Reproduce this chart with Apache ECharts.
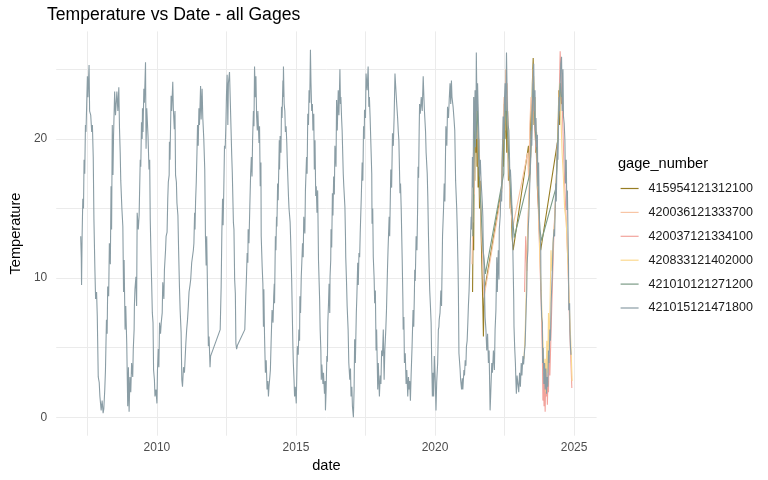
<!DOCTYPE html>
<html>
<head>
<meta charset="utf-8">
<title>Temperature vs Date - all Gages</title>
<script src="https://cdn.jsdelivr.net/npm/echarts@6/dist/echarts.min.js"></script>
<style>
  html, body { margin: 0; padding: 0; background: #fff; }
  #main { width: 768px; height: 480px; }
</style>
</head>
<body>
<div id="main"></div>
<script>
// gage names, in legend order
var gageNames = ['415954121312100', '420036121333700', '420037121334100',
  '420833121402000', '421010121271200', '421015121471800'];
var gageColors = ['#977d23', '#f8c5a5', '#f2a39c', '#fbd98e', '#7b9b86', '#8a9da5'];

// [decimal year, temperature]
var gage415954 = [
  [2021.35, 9], [2021.37, 14], [2021.39, 12], [2021.41, 20], [2021.43, 17], [2021.45, 23], [2021.47, 19],
  [2021.49, 22.5], [2021.51, 18], [2021.53, 21], [2021.55, 16.5], [2021.57, 19], [2021.6, 15], [2021.63, 17],
  [2021.66, 13], [2021.69, 10.5], [2021.72, 8], [2021.74, 5.8], [2021.77, 9],
  [2022.4, 16.5], [2022.43, 20], [2022.46, 18], [2022.49, 22.5], [2022.52, 20], [2022.55, 24], [2022.58, 19],
  [2022.61, 22], [2022.64, 17], [2022.67, 19], [2022.7, 15], [2022.73, 16], [2022.77, 13], [2022.81, 12],
  [2023.36, 19.5], [2023.4, 18], [2023.44, 22], [2023.47, 20], [2023.5, 24], [2023.53, 25.8], [2023.56, 21],
  [2023.59, 23], [2023.62, 19], [2023.65, 20.5], [2023.68, 16.5], [2023.72, 15], [2023.76, 13], [2023.8, 12],
  [2024.42, 20], [2024.45, 23.5], [2024.48, 21], [2024.51, 24], [2024.54, 22.5], [2024.57, 23]
];
var gage420036 = [
  [2021.33, 11], [2021.35, 13], [2021.38, 19], [2021.41, 16], [2021.44, 22], [2021.47, 23.5], [2021.5, 20],
  [2021.53, 22.5], [2021.56, 18], [2021.59, 20], [2021.62, 16], [2021.66, 14], [2021.7, 12], [2021.76, 8.6],
  [2022.4, 16.2], [2022.42, 18], [2022.45, 21], [2022.48, 23], [2022.51, 20.6], [2022.54, 25], [2022.57, 22],
  [2022.6, 24], [2022.63, 19], [2022.67, 17], [2022.71, 15], [2022.75, 14.5], [2022.79, 13.6],
  [2023.33, 19], [2023.37, 17], [2023.41, 21], [2023.45, 23], [2023.49, 21.5], [2023.53, 25], [2023.57, 22],
  [2023.61, 20], [2023.65, 19], [2023.7, 17]
];
var gage420037 = [
  [2023.22, 9], [2023.26, 13], [2023.3, 10.5], [2023.34, 14], [2023.4, 17], [2023.46, 20], [2023.52, 24],
  [2023.58, 21], [2023.64, 19], [2023.7, 16], [2023.76, 12], [2023.82, 8], [2023.86, 4.5], [2023.88, 1.2],
  [2023.9, 3.2], [2023.92, 0.8], [2023.94, 2.5], [2023.96, 0.4], [2023.98, 2.8], [2024.0, 1.5], [2024.02, 3.8],
  [2024.04, 0.9], [2024.06, 2.6], [2024.08, 1.8], [2024.1, 4.5], [2024.13, 3], [2024.17, 6], [2024.22, 9.5],
  [2024.28, 13.5], [2024.34, 16], [2024.4, 19.5], [2024.46, 22.5], [2024.5, 26.3], [2024.54, 24], [2024.58, 22],
  [2024.64, 18], [2024.7, 15], [2024.78, 11], [2024.85, 6], [2024.92, 2.1]
];
var gage420833 = [
  [2023.2, 4.2], [2023.24, 6], [2023.28, 9], [2023.32, 12.5], [2023.38, 16], [2023.44, 19], [2023.5, 22.5],
  [2023.55, 24.5], [2023.6, 22], [2023.66, 19.5], [2023.72, 16], [2023.77, 11.5], [2023.82, 9], [2023.86, 6.5],
  [2023.9, 4.5], [2023.93, 2.8], [2023.96, 4.2], [2023.99, 1.8], [2024.02, 5.5], [2024.05, 3.2], [2024.08, 7.5],
  [2024.11, 4.8], [2024.14, 8.5], [2024.17, 12], [2024.21, 10.5], [2024.25, 12.8], [2024.3, 14], [2024.36, 17],
  [2024.42, 20.5], [2024.48, 24], [2024.52, 22], [2024.57, 19], [2024.61, 17.5], [2024.66, 15], [2024.72, 14],
  [2024.78, 11], [2024.84, 7.5], [2024.89, 5], [2024.93, 2.6]
];
var gage421010 = [
  [2021.36, 13], [2021.4, 18], [2021.44, 22], [2021.48, 20], [2021.52, 23], [2021.56, 19], [2021.6, 17],
  [2021.65, 15], [2021.7, 13], [2021.75, 11.5], [2021.81, 10.3],
  [2022.47, 17.5], [2022.5, 21], [2022.54, 23], [2022.58, 21], [2022.62, 20], [2022.67, 18], [2022.72, 16],
  [2022.78, 14.5], [2022.85, 12.9],
  [2023.41, 17.5], [2023.45, 19.5], [2023.49, 22], [2023.53, 24], [2023.57, 22], [2023.61, 20.5], [2023.66, 19],
  [2023.71, 16.5], [2023.77, 13.5], [2023.83, 12.7],
  [2024.35, 16.5], [2024.4, 19], [2024.45, 22], [2024.5, 24], [2024.55, 23]
];
var gage421015 = [
  [2007.26,13],[2007.28,11.5],[2007.29,9.5],[2007.31,13],[2007.335,15.7],[2007.36,15],[2007.38,18.5],[2007.405,17.5],[2007.43,21],[2007.45,20.5],[2007.475,22.5],[2007.5,24.5],[2007.52,23],[2007.56,25.3],[2007.58,22],[2007.62,21.7],[2007.655,20.5],[2007.68,21],[2007.71,18.7],[2007.735,14.2],[2007.77,10.6],[2007.795,8.5],[2007.83,9],[2007.855,7.3],[2007.89,2.9],[2007.925,2.5],[2007.95,1.5],[2007.995,0.5],
  [2008.03,1.2],[2008.065,0.3],[2008.09,0.6],[2008.125,2],[2008.15,3.4],[2008.185,7],[2008.21,6],[2008.23,9.4],[2008.265,8.7],[2008.29,12.5],[2008.325,11],[2008.35,16.6],[2008.37,13.5],[2008.395,21],[2008.42,17.4],[2008.44,20.2],[2008.48,23.4],[2008.51,21.7],[2008.56,23.4],[2008.595,22],[2008.63,23.7],[2008.655,20.7],[2008.68,19],[2008.7,17],[2008.74,15],[2008.775,13.7],[2008.8,9],[2008.82,11.3],[2008.855,6.3],[2008.88,8],[2008.915,5.3],[2008.95,0.8],[2008.975,3.6],
  [2009.0,0.4],[2009.03,2.9],[2009.06,1.8],[2009.09,3.9],[2009.13,2.9],[2009.15,4.9],[2009.18,6.3],[2009.19,8],[2009.21,9.2],[2009.245,10.1],[2009.27,8],[2009.29,14.7],[2009.33,13.5],[2009.36,14.5],[2009.4,18.5],[2009.42,18],[2009.445,21.2],[2009.47,20],[2009.48,22.2],[2009.5,20.5],[2009.53,23.6],[2009.55,22.6],[2009.59,25.5],[2009.61,19.3],[2009.635,22.2],[2009.68,20.2],[2009.715,17.8],[2009.74,18.5],[2009.76,14.2],[2009.79,11.3],[2009.81,9.7],[2009.835,7.5],[2009.86,6.8],[2009.88,3.4],[2009.91,2.7],[2009.93,1.5],[2009.965,2],
  [2010.0,1.0],[2010.02,3.4],[2010.05,4.9],[2010.07,3.6],[2010.095,6.8],[2010.13,6],[2010.155,6.8],[2010.19,7.5],[2010.21,9.7],[2010.25,8.5],[2010.27,10.6],[2010.31,12],[2010.33,13],[2010.365,13.3],[2010.39,15.7],[2010.41,16.9],[2010.44,17.4],[2010.45,19.8],[2010.47,18.5],[2010.51,23.1],[2010.53,22],[2010.57,24.1],[2010.59,22.2],[2010.625,20.7],[2010.65,22],[2010.67,17.4],[2010.7,16.9],[2010.72,15.4],[2010.755,14.5],[2010.78,12],[2010.81,9.4],[2010.835,7.7],[2010.87,6.1],[2010.895,2.7],[2010.92,2.2],[2010.955,3.6],[2010.99,3.2],
  [2011.04,5.3],[2011.07,6.3],[2011.1,7],[2011.13,8],[2011.155,9],[2011.19,9.5],[2011.215,9.9],[2011.25,11.1],[2011.27,11.1],[2011.31,12],[2011.33,12.5],[2011.355,14.7],[2011.37,13.5],[2011.39,15.5],[2011.415,16.9],[2011.44,19],[2011.46,21],[2011.485,19.5],[2011.51,22.2],[2011.53,21],[2011.57,23.8],[2011.59,21.4],[2011.625,23.6],[2011.65,21.5],[2011.685,20],[2011.72,17.8],[2011.745,13],[2011.77,10.9],[2011.79,13],[2011.815,9.7],[2011.85,5.1],[2011.875,5.8],[2011.91,3.6],[2011.93,4.4],
  [2012.275,6.3],[2012.31,9.4],[2012.335,13.3],[2012.36,15.7],[2012.38,13.8],[2012.405,16.4],[2012.43,19.5],[2012.455,19.3],[2012.48,21],[2012.5,23.1],[2012.525,24.6],[2012.55,21],[2012.57,24],[2012.61,24.8],[2012.64,22.6],[2012.665,20.7],[2012.69,18.8],[2012.71,17.6],[2012.75,14],[2012.77,13.5],[2012.795,9.9],[2012.82,8.9],[2012.84,5.3],[2012.865,4.9],[2012.9,5.2],
  [2013.16,6.3],[2013.195,8.7],[2013.22,10.1],[2013.245,11.8],[2013.27,11.1],[2013.28,13.5],[2013.31,12.5],[2013.34,15.1],[2013.37,17.5],[2013.395,18.7],[2013.42,17.3],[2013.44,19.9],[2013.47,22],[2013.49,20.9],[2013.51,25.2],[2013.54,23],[2013.56,24.5],[2013.585,21.6],[2013.61,20.6],[2013.63,22],[2013.67,19.7],[2013.69,20.9],[2013.715,16.6],[2013.74,18.3],[2013.75,13],[2013.785,10.8],[2013.81,9.6],[2013.83,6.5],[2013.845,9.2],[2013.87,5.8],[2013.9,3.2],[2013.93,4.1],[2013.96,2],[2013.99,2.6],
  [2014.01,1.5],[2014.03,2.2],[2014.06,2.9],[2014.08,3.4],[2014.105,5.3],[2014.14,7.7],[2014.175,6.8],[2014.2,8.7],[2014.22,9.6],[2014.23,8.2],[2014.26,13],[2014.28,12],[2014.3,14.4],[2014.315,13.7],[2014.34,16.8],[2014.36,15.6],[2014.4,19.9],[2014.41,17.8],[2014.43,20.2],[2014.46,19],[2014.48,22.3],[2014.5,21.5],[2014.53,24.2],[2014.54,23],[2014.55,25.2],[2014.575,22.5],[2014.6,22],[2014.62,20.5],[2014.645,20.9],[2014.67,19.7],[2014.69,18.2],[2014.73,15.9],[2014.75,15],[2014.79,14],[2014.81,12.7],[2014.845,9.9],[2014.87,7.2],[2014.89,5.1],[2014.905,3.9],[2014.93,2.7],[2014.95,1.5],[2014.975,2.2],
  [2015.01,1.0],[2015.035,3.5],[2015.05,5.1],[2015.08,4.5],[2015.105,6.3],[2015.13,5.5],[2015.14,8.7],[2015.165,7.5],[2015.19,10.1],[2015.21,11.1],[2015.235,12.5],[2015.26,11.5],[2015.28,14.4],[2015.32,13.2],[2015.34,16.3],[2015.38,18.7],[2015.4,17.5],[2015.425,21.8],[2015.45,21],[2015.47,23.5],[2015.495,22.6],[2015.52,26.4],[2015.54,24],[2015.565,22],[2015.59,22.5],[2015.61,20.6],[2015.64,21.8],[2015.66,17.8],[2015.685,19.9],[2015.71,15.9],[2015.73,16.6],[2015.755,14.7],[2015.78,16.3],[2015.81,11.3],[2015.85,8.5],[2015.87,6.3],[2015.895,4.8],[2015.91,2.7],[2015.93,3.8],[2015.97,2.4],[2015.99,3.2],
  [2016.025,1.7],[2016.05,2.6],[2016.06,0.5],[2016.085,2],[2016.11,4.4],[2016.13,4],[2016.145,6.8],[2016.17,8.2],[2016.19,9.6],[2016.215,7.5],[2016.225,10.1],[2016.25,11.3],[2016.26,13.5],[2016.285,12.2],[2016.31,16.1],[2016.33,14.5],[2016.355,17.3],[2016.38,16],[2016.4,19.5],[2016.44,18],[2016.46,22.8],[2016.485,20.6],[2016.52,23.5],[2016.545,21.7],[2016.58,25],[2016.6,22.5],[2016.615,23],[2016.64,21.5],[2016.66,20.6],[2016.7,17.5],[2016.72,16.6],[2016.76,15.1],[2016.78,13],[2016.79,11.5],[2016.815,9.9],[2016.84,8],[2016.875,6.3],[2016.9,3.9],[2016.935,2.7],[2016.96,3.5],[2016.98,1.5],
  [2017.01,2.2],[2017.03,0.8],[2017.065,0],[2017.09,2],[2017.11,5.6],[2017.135,3.9],[2017.17,7.5],[2017.19,8.7],[2017.22,11.1],[2017.24,9.5],[2017.265,11.8],[2017.29,11.5],[2017.31,13.2],[2017.35,15.9],[2017.38,18.3],[2017.405,17],[2017.43,20.9],[2017.455,20],[2017.465,22.1],[2017.5,21.5],[2017.52,24.7],[2017.56,23.5],[2017.595,25.2],[2017.62,22.3],[2017.64,23],[2017.665,21.6],[2017.7,21.6],[2017.725,17.5],[2017.735,13.9],[2017.76,15],[2017.78,11.5],[2017.81,10],[2017.83,8.2],[2017.855,9.1],[2017.88,4.8],[2017.9,6.3],[2017.94,2],[2017.96,3.9],
  [2018.0,1.5],[2018.03,3],[2018.055,2.4],[2018.08,4.8],[2018.11,4.4],[2018.14,6.3],[2018.17,2.7],[2018.195,4.8],[2018.23,6.3],[2018.255,7.7],[2018.29,10.6],[2018.31,12],[2018.35,14.4],[2018.37,13],[2018.41,17.8],[2018.44,16.5],[2018.47,20.4],[2018.5,19.5],[2018.53,21.6],[2018.56,24.7],[2018.585,23.8],[2018.62,22.6],[2018.655,21.5],[2018.68,20.5],[2018.7,19.9],[2018.74,16.1],[2018.76,16.8],[2018.785,14.9],[2018.82,11.3],[2018.845,8.4],[2018.855,6.3],[2018.88,7.2],[2018.9,3.9],[2018.93,4.6],[2018.96,2.4],[2018.985,3.4],
  [2019.02,1.5],[2019.045,2.9],[2019.07,2],[2019.09,2.6],[2019.115,1.2],[2019.14,3],[2019.175,5.1],[2019.21,7.7],[2019.235,6.5],[2019.26,9.1],[2019.27,10.6],[2019.29,9.8],[2019.32,13],[2019.35,12],[2019.375,15.1],[2019.39,18],[2019.41,17.2],[2019.43,20.6],[2019.445,22.5],[2019.47,21.8],[2019.505,23],[2019.54,22],[2019.575,24.5],[2019.6,23],[2019.62,22],[2019.66,20.5],[2019.68,19],[2019.72,17.5],[2019.74,15.9],[2019.765,13],[2019.79,10.6],[2019.81,9.1],[2019.835,8],[2019.86,6.8],[2019.88,4.1],[2019.905,1.5],[2019.93,3.2],[2019.95,1.5],[2019.975,4.4],
  [2020.01,2.5],[2020.035,0.5],[2020.06,2.5],[2020.095,3.9],[2020.12,6.3],[2020.14,6.5],[2020.15,7],[2020.18,7.5],[2020.21,9.1],[2020.235,8],[2020.27,13],[2020.305,14.9],[2020.33,16.8],[2020.355,15.5],[2020.39,20.9],[2020.425,19.5],[2020.45,22.3],[2020.485,21.5],[2020.51,22.8],[2020.54,24],[2020.565,22.5],[2020.59,24.2],[2020.61,23],[2020.65,22.3],[2020.68,21.5],[2020.71,20.6],[2020.74,17],[2020.78,15],[2020.8,13.5],[2020.825,11],[2020.84,9.1],[2020.86,4.6],[2020.9,3.5],[2020.92,2.7],[2020.955,2],[2020.98,2.8],
  [2021.0,2],[2021.04,3.4],[2021.06,3],[2021.085,4.1],[2021.11,3.7],[2021.13,5.1],[2021.155,5.5],[2021.18,6.8],[2021.2,8],[2021.225,9.1],[2021.25,11],[2021.27,12.5],[2021.3,14.4],[2021.31,13.5],[2021.33,15.9],[2021.345,18.7],[2021.37,16.5],[2021.39,23],[2021.415,20.6],[2021.44,23.5],[2021.45,19.4],[2021.475,22],[2021.485,26.2],[2021.51,22],[2021.53,24],[2021.555,21.8],[2021.58,19.9],[2021.6,17.3],[2021.63,18.5],[2021.65,17.3],[2021.675,16.3],[2021.7,15.4],[2021.72,14.4],[2021.735,12],[2021.76,11.3],[2021.78,9.1],[2021.8,7.2],[2021.83,6.3],[2021.86,4.8],[2021.89,6],[2021.92,3.9],[2021.945,4.8],[2021.98,0.5],
  [2022.0,1.5],[2022.04,3.9],[2022.065,3.2],[2022.1,4.8],[2022.135,3.4],[2022.16,6.3],[2022.19,7.7],[2022.22,11.5],[2022.24,9],[2022.275,12],[2022.3,9.9],[2022.31,13.5],[2022.345,14.5],[2022.37,16.3],[2022.395,15.5],[2022.42,18.3],[2022.44,20.6],[2022.45,21.6],[2022.475,20],[2022.5,23],[2022.52,24],[2022.545,22],[2022.57,26.2],[2022.595,23],[2022.605,22],[2022.63,21],[2022.655,20.6],[2022.68,18.5],[2022.69,17.3],[2022.71,17.8],[2022.735,16.8],[2022.76,15.4],[2022.78,14.4],[2022.805,11.3],[2022.83,8.5],[2022.84,6.5],[2022.865,5],[2022.89,3.9],[2022.91,2.5],[2022.925,1.7],[2022.95,3],[2022.98,2.4],
  [2023.01,1.8],[2023.04,3.2],[2023.07,2.2],[2023.1,3.9],[2023.125,3],[2023.16,4.4],[2023.185,3.8],[2023.22,4.8],[2023.24,5.2],[2023.28,8],[2023.3,9.2],[2023.31,11],[2023.34,12],[2023.35,13.5],[2023.375,14.5],[2023.4,16.3],[2023.42,17.5],[2023.445,18.7],[2023.455,20.6],[2023.48,19.5],[2023.5,22.3],[2023.525,24.2],[2023.55,25.4],[2023.57,22],[2023.595,23.5],[2023.61,20.6],[2023.63,21.5],[2023.655,19.4],[2023.68,20.3],[2023.7,16.6],[2023.725,18.3],[2023.75,14.4],[2023.775,13],[2023.8,12.3],[2023.81,9.1],[2023.835,7.2],[2023.86,6.8],[2023.87,3.9],[2023.89,5],[2023.915,2.4],[2023.94,3.9],[2023.96,2],[2023.985,3.5],
  [2024.01,1.7],[2024.03,2.9],[2024.055,2.2],[2024.08,4.8],[2024.1,3.9],[2024.13,6.3],[2024.15,5.5],[2024.175,8.2],[2024.2,9.5],[2024.22,10.6],[2024.245,12.5],[2024.28,13.5],[2024.3,13],[2024.34,16.8],[2024.36,15.5],[2024.4,19.7],[2024.42,18.5],[2024.46,23],[2024.48,22],[2024.52,25.4],[2024.55,25.9],[2024.575,22],[2024.6,25],[2024.62,21.6],[2024.645,21.1],[2024.67,19.9],[2024.69,16.8],[2024.72,18.5],[2024.74,14.9],[2024.76,16.3],[2024.78,13.5],[2024.8,11],[2024.81,7.7],[2024.84,8.2],[2024.85,6.3],[2024.87,5.1],[2024.89,4.5]
];
var gageData = [gage415954, gage420036, gage420037, gage420833, gage421010, gage421015];

// axis ticks
var xGridYears = [2007.5, 2010, 2012.5, 2015, 2017.5, 2020, 2022.5, 2025];
var xLabelYears = [2010, 2015, 2020, 2025];
var yGridTemps = [0, 5, 10, 15, 20, 25];
var yLabelTemps = [0, 10, 20];

var font = '"Liberation Sans", Arial, sans-serif';
var chart = echarts.init(document.getElementById('main'), null, { renderer: 'canvas' });

var series = gageNames.map(function (name, i) {
  return {
    name: name,
    type: 'line',
    data: gageData[i],
    symbol: 'none',
    showSymbol: false,
    animation: false,
    lineStyle: { color: gageColors[i], width: 1.1 },
    itemStyle: { color: gageColors[i] },
    emphasis: { disabled: true }
  };
});

var option = {
  backgroundColor: '#fff',
  animation: false,
  title: [{
    text: 'Temperature vs Date - all Gages',
    left: 47,
    top: 6,
    padding: 0,
    textStyle: { fontFamily: font, fontSize: 17.6, fontWeight: 'normal', color: '#000' }
  }, {
    text: 'gage_number',
    left: 618,
    top: 156,
    padding: 0,
    textStyle: { fontFamily: font, fontSize: 14.6, fontWeight: 'normal', color: '#000' }
  }],
  legend: {
    orient: 'vertical',
    left: 620,
    top: 182,
    padding: 0,
    itemWidth: 18,
    itemHeight: 12,
    itemGap: 10.9,
    data: gageNames,
    itemStyle: { opacity: 0 },
    lineStyle: { width: 1.2 },
    textStyle: { fontFamily: font, fontSize: 12.5, color: '#1a1a1a', padding: [0, 0, 0, 5] },
    selectedMode: false
  },
  grid: { left: 47, right: 171.4, top: 31.4, bottom: 44.3, containLabel: false },
  xAxis: {
    type: 'value',
    min: 2006.38,
    max: 2025.81,
    name: 'date',
    nameLocation: 'middle',
    nameGap: 20,
    nameTextStyle: { fontFamily: font, fontSize: 14.6, color: '#000' },
    axisLine: { show: false },
    axisTick: { show: false, customValues: xGridYears },
    axisLabel: {
      customValues: xLabelYears, margin: 6, fontFamily: font, fontSize: 12, color: '#4d4d4d',
      formatter: function (v) { return String(v); }
    },
    splitLine: { show: true, lineStyle: { color: '#ebebeb', width: 1 } }
  },
  yAxis: {
    type: 'value',
    min: -1.32,
    max: 27.72,
    name: 'Temperature',
    nameLocation: 'middle',
    nameGap: 25,
    nameTextStyle: { fontFamily: font, fontSize: 14.6, color: '#000' },
    axisLine: { show: false },
    axisTick: { show: false, customValues: yGridTemps },
    axisLabel: { customValues: yLabelTemps, margin: 9, fontFamily: font, fontSize: 12, color: '#4d4d4d' },
    splitLine: { show: true, lineStyle: { color: '#ebebeb', width: 1 } }
  },
  series: series
};

chart.setOption(option);
</script>
</body>
</html>
